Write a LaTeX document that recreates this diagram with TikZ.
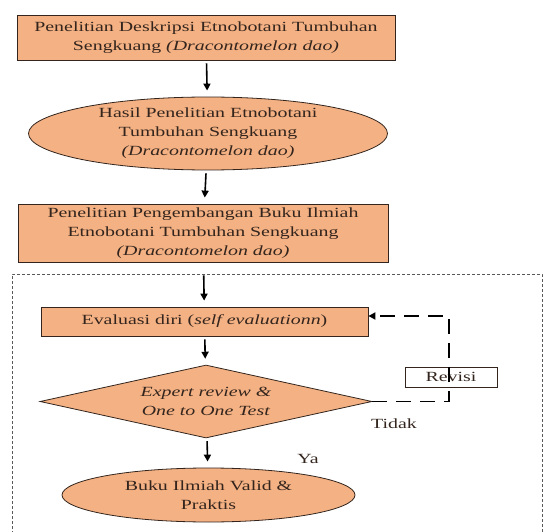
\documentclass[tikz,border=0pt]{standalone}
\usepackage{fontspec}
\setmainfont{Liberation Serif}[FakeStretch=1.42]
\usetikzlibrary{arrows.meta, shapes.geometric}
\definecolor{Peach}{HTML}{F4B183}
\definecolor{DInk}{HTML}{33251D}
\tikzset{
    stage/.style={draw=DInk, thick, fill=Peach, text=DInk, align=center,
        inner sep=1pt, font=\fontsize{14}{19}\selectfont},
    stagebox/.style={stage, rectangle},
    stageoval/.style={stage, ellipse, inner sep=-3pt},
    stagecheck/.style={stage, diamond, aspect=4.55, inner sep=0pt},
    flow/.style={-{Triangle[length=7pt,width=7pt]}, line width=1.6pt, black,
        shorten <=3pt, shorten >=6pt},
    back/.style={-{Triangle[length=7pt,width=7pt]}, line width=1.8pt, black,
        dash pattern=on 15pt off 9pt},
}

\begin{document}
\begin{tikzpicture}[x=1pt, y=-1pt]
\useasboundingbox (0,0) rectangle (549,532);

% area of the development step
\draw[gray!70!black, densely dashed, line width=0.6pt]
    (12,534) -- (12,274) -- (542,274) -- (542,534);

\node[stagebox, minimum width=378, minimum height=45] (desk) at (206,37.5)
    {Penelitian Deskripsi Etnobotani Tumbuhan\\Sengkuang \textit{(Dracontomelon dao)}};
\node[stageoval, minimum width=359, minimum height=73] (hasil) at (208,133.5)
    {Hasil Penelitian Etnobotani\\Tumbuhan Sengkuang\\\textit{(Dracontomelon dao)}};
\node[stagebox, minimum width=370, minimum height=58] (kembang) at (203,233)
    {Penelitian Pengembangan Buku Ilmiah\\Etnobotani Tumbuhan Sengkuang\\\textit{(Dracontomelon dao)}};
\node[stagebox, minimum width=327, minimum height=29] (evaluasi) at (204.5,321.5)
    {Evaluasi diri (\textit{self evaluationn})};
\node[stagecheck, minimum width=332, minimum height=73] (review) at (206,401.5)
    {\textit{Expert review \&}\\\textit{One to One Test}};
\node[stageoval, minimum width=293, minimum height=54] (buku) at (208.5,495)
    {Buku Ilmiah Valid \&\\Praktis};

\node[draw=DInk, thick, minimum width=92, minimum height=20, inner sep=1pt,
    font=\fontsize{14}{19}\selectfont, text=DInk] (revisi) at (451,377) {Revisi};

\coordinate (turnlow) at (449,401.5);
\coordinate (turnup) at (449,316);

\draw[flow] (desk) -- (hasil);
\draw[flow] (hasil) -- (kembang);
\draw[flow, shorten <=13pt] (kembang) -- (evaluasi);
\draw[flow] (evaluasi) -- (review);
\draw[flow] (review) -- (buku);

\draw[back] (review.east) -- (turnlow) -- (turnup) -- (evaluasi.east |- turnup);

\node[font=\fontsize{14}{19}\selectfont, text=DInk] (tidak) at (394,424) {Tidak};
\node[font=\fontsize{14}{19}\selectfont, text=DInk] (ya) at (308,459) {Ya};

\end{tikzpicture}
\end{document}
